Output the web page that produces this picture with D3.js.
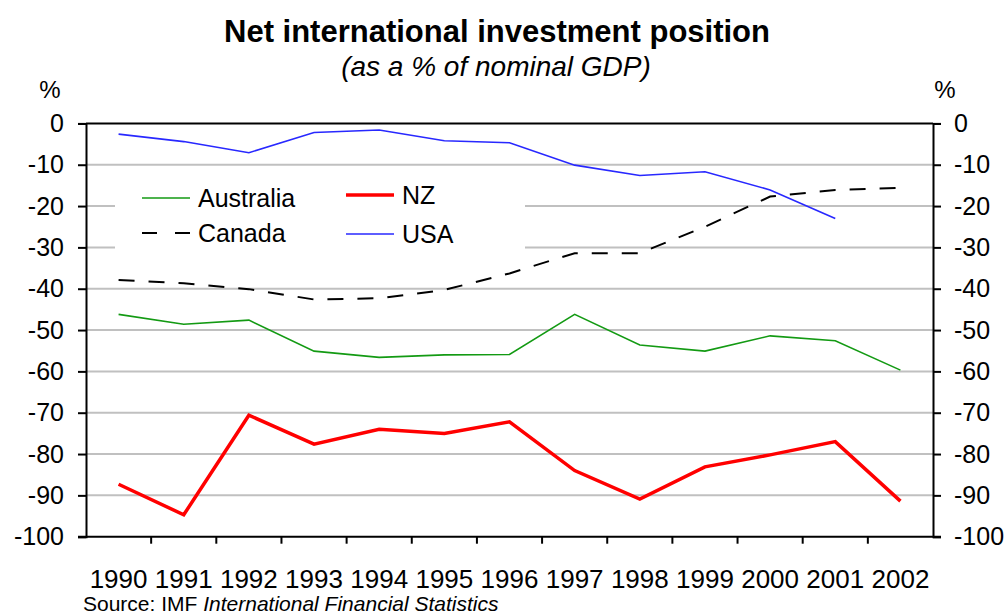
<!DOCTYPE html>
<html><head><meta charset="utf-8">
<script src="https://cdn.jsdelivr.net/npm/d3@7"></script>
<style>body{margin:0;background:#fff}svg{display:block;font-family:"Liberation Sans",Arial,sans-serif}</style>
</head><body><svg id="c" width="1006" height="615"></svg>
<script>
const years = ["1990","1991","1992","1993","1994","1995","1996","1997","1998","1999","2000","2001","2002"];
const australia = [-46.2,-48.6,-47.6,-55.1,-56.6,-56.0,-55.9,-46.2,-53.6,-55.1,-51.4,-52.6,-59.7];
const nz = [-87.3,-94.7,-70.6,-77.6,-74.0,-75.0,-72.2,-84.0,-90.9,-83.1,-80.2,-77.0,-91.4];
const canada = [-37.9,-38.7,-40.1,-42.6,-42.3,-40.3,-36.3,-31.4,-31.4,-25.0,-17.7,-16.1,-15.6];
const usa = [-2.6,-4.4,-7.1,-2.2,-1.6,-4.2,-4.7,-10.1,-12.6,-11.7,-16.1,-23.0,null];
const yTicks = [0,-10,-20,-30,-40,-50,-60,-70,-80,-90,-100];

const svg = d3.select("#c");
const L = 86, R = 933, T = 123.4, B = 536.7;
const x = d3.scaleBand().domain(years).range([L, R]);
const y = d3.scaleLinear().domain([-100, 0]).range([B, T]);

// title
svg.append("text").attr("x", 497).attr("y", 42).attr("text-anchor","middle")
  .attr("font-size", 31).attr("font-weight","bold").attr("fill","#000")
  .text("Net international investment position");
svg.append("text").attr("x", 496).attr("y", 76).attr("text-anchor","middle")
  .attr("font-size", 28).attr("font-style","italic").attr("fill","#000")
  .text("(as a % of nominal GDP)");
svg.append("text").attr("x", 50).attr("y", 98).attr("text-anchor","middle").attr("font-size", 24).text("%");
svg.append("text").attr("x", 945).attr("y", 98).attr("text-anchor","middle").attr("font-size", 24).text("%");

// gridlines
svg.append("g").selectAll("line").data(yTicks.filter(d => d !== 0 && d !== -100)).join("line")
  .attr("x1", L).attr("x2", R).attr("y1", d => y(d)).attr("y2", d => y(d))
  .attr("stroke", "#c0c0c0").attr("stroke-width", 2);

// legend box background
svg.append("rect").attr("x", 115).attr("y", 176).attr("width", 410).attr("height", 86).attr("fill", "#fff");

// axes
const fmt = d => String(d);
const yl = svg.append("g").attr("transform", `translate(${L},0)`)
  .call(d3.axisLeft(y).tickValues(yTicks).tickSize(8).tickPadding(14).tickFormat(fmt));
const yr = svg.append("g").attr("transform", `translate(${R},0)`)
  .call(d3.axisRight(y).tickValues(yTicks).tickSize(8).tickPadding(13).tickFormat(fmt));
[yl, yr].forEach(g => {
  g.select(".domain").attr("stroke","#000").attr("stroke-width",2);
  g.selectAll(".tick line").attr("stroke","#000").attr("stroke-width",2);
  g.selectAll(".tick text").attr("font-size",25).attr("fill","#000").attr("font-family","Liberation Sans, Arial, sans-serif");
});
// top border
svg.append("line").attr("x1", L).attr("x2", R).attr("y1", T).attr("y2", T).attr("stroke","#000").attr("stroke-width",2);
// bottom axis
svg.append("line").attr("x1", L - 8).attr("x2", R + 8).attr("y1", B).attr("y2", B).attr("stroke","#000").attr("stroke-width",2);
svg.append("g").selectAll("line").data(years.slice(1)).join("line")
  .attr("x1", d => x(d)).attr("x2", d => x(d)).attr("y1", B).attr("y2", B + 7)
  .attr("stroke","#000").attr("stroke-width",2);
svg.append("g").selectAll("text").data(years).join("text")
  .attr("x", d => x(d) + x.bandwidth()/2).attr("y", 588).attr("text-anchor","middle")
  .attr("font-size", 26).attr("fill","#000").text(d => d);

// lines
const line = d3.line().defined(d => d.v !== null).x(d => x(d.yr) + x.bandwidth()/2).y(d => y(d.v));
const series = [
  {name:"Australia", vals: australia, color:"#139a13", w:1.6, dash:null},
  {name:"Canada", vals: canada, color:"#000", w:2, dash:"16,14"},
  {name:"USA", vals: usa, color:"#2828ff", w:1.6, dash:null},
  {name:"NZ", vals: nz, color:"#ff0000", w:3.5, dash:null}
];
series.forEach(s => {
  svg.append("path").datum(years.map((yr,i) => ({yr, v: s.vals[i]})))
    .attr("d", line).attr("fill","none").attr("stroke", s.color)
    .attr("stroke-width", s.w).attr("stroke-dasharray", s.dash);
});

// legend
const leg = [
  {name:"Australia", color:"#139a13", w:1.6, dash:null, lx:142, ly:198},
  {name:"Canada", color:"#000", w:2, dash:"15,18", lx:142, ly:233},
  {name:"NZ", color:"#ff0000", w:3.5, dash:null, lx:346, ly:195},
  {name:"USA", color:"#2828ff", w:1.6, dash:null, lx:346, ly:234}
];
leg.forEach(l => {
  svg.append("line").attr("x1", l.lx).attr("x2", l.lx + 48).attr("y1", l.ly).attr("y2", l.ly)
    .attr("stroke", l.color).attr("stroke-width", l.w).attr("stroke-dasharray", l.dash);
  svg.append("text").attr("x", l.lx + 56).attr("y", l.ly + 9).attr("font-size", 25).attr("fill","#000").text(l.name);
});

// source
const src = svg.append("text").attr("x", 83).attr("y", 611).attr("font-size", 21).attr("fill","#000");
src.append("tspan").text("Source: IMF ");
src.append("tspan").attr("font-style","italic").text("International Financial Statistics");
</script></body></html>
